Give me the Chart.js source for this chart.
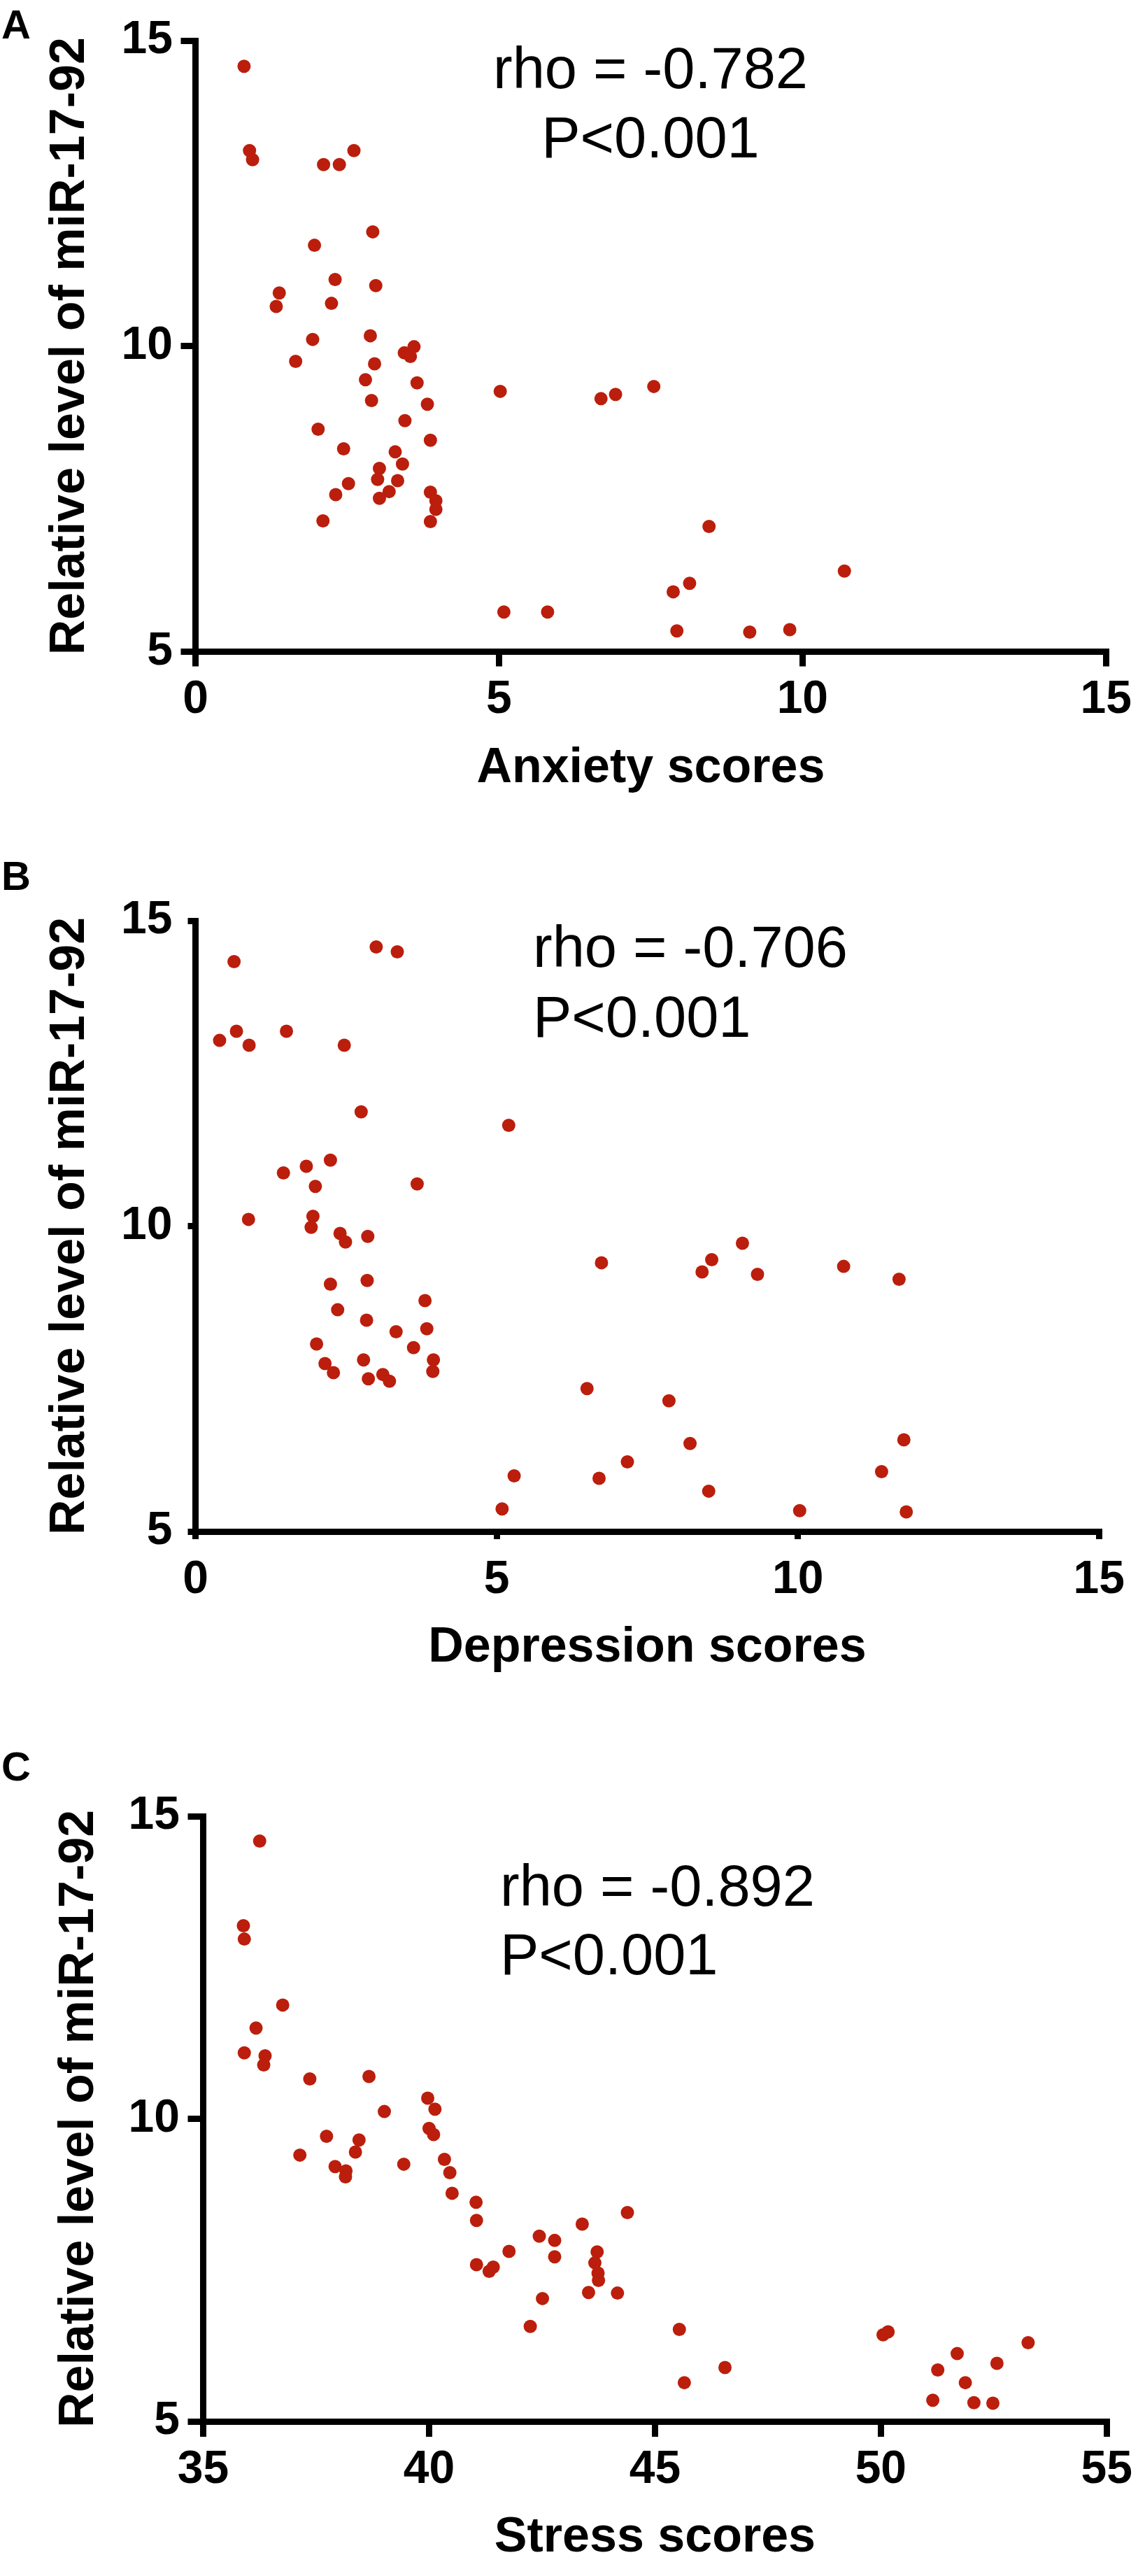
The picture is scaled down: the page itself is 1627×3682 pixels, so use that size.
<!DOCTYPE html>
<html>
<head>
<meta charset="utf-8">
<script src="https://cdn.jsdelivr.net/npm/chart.js@4.4.1/dist/chart.umd.min.js"></script>
<style>
    body { margin: 0; background: #fff; }
    canvas { display: block; }
</style>
</head>
<body>
<canvas id="chartA" width="1627" height="1200"></canvas>
<canvas id="chartB" width="1627" height="1250"></canvas>
<canvas id="chartC" width="1627" height="1232"></canvas>
<script>
const anxietyScores = [0.80, 0.89, 0.94, 2.61, 2.11, 2.37, 2.92, 1.96, 2.30, 2.97, 1.38, 1.33, 2.24, 1.93, 2.88, 3.60, 3.44, 3.54, 1.65, 2.95, 2.80, 3.65, 5.02, 2.90, 3.82, 6.68, 6.92, 7.55, 3.45, 2.02, 3.87, 2.44, 3.29, 3.41, 3.03, 3.00, 3.33, 2.52, 3.19, 2.31, 3.03, 3.87, 3.96, 3.96, 2.10, 3.87, 8.46, 10.69, 8.14, 7.87, 5.08, 5.80, 7.93, 9.13, 9.79];
const anxietyMir = [14.58, 13.20, 13.05, 13.20, 12.97, 12.97, 11.87, 11.65, 11.09, 10.99, 10.87, 10.65, 10.70, 10.11, 10.17, 9.99, 9.89, 9.83, 9.75, 9.71, 9.45, 9.40, 9.26, 9.11, 9.05, 9.14, 9.21, 9.34, 8.78, 8.64, 8.46, 8.32, 8.27, 8.07, 8.00, 7.82, 7.80, 7.75, 7.62, 7.57, 7.51, 7.61, 7.47, 7.33, 7.14, 7.13, 7.05, 6.32, 6.12, 5.98, 5.65, 5.65, 5.34, 5.32, 5.36];

const depressionScores = [0.40, 0.64, 0.68, 0.89, 1.51, 2.47, 3.00, 3.35, 2.75, 5.20, 1.46, 1.84, 2.24, 1.99, 3.68, 0.88, 1.95, 1.92, 2.40, 2.49, 2.86, 6.74, 9.08, 8.57, 8.41, 9.33, 10.76, 11.68, 2.24, 2.85, 3.81, 2.36, 2.84, 3.33, 3.84, 2.01, 3.62, 2.15, 2.79, 3.95, 2.29, 3.11, 2.87, 3.22, 3.94, 6.50, 7.86, 8.21, 11.76, 7.17, 5.29, 6.70, 11.39, 8.52, 5.09, 10.03, 11.80];
const depressionMir = [13.04, 14.33, 13.19, 12.96, 13.19, 12.96, 14.57, 14.49, 11.87, 11.65, 10.87, 10.98, 11.08, 10.65, 10.69, 10.11, 10.16, 9.98, 9.88, 9.74, 9.83, 9.40, 9.72, 9.45, 9.25, 9.21, 9.34, 9.13, 9.05, 9.11, 8.78, 8.63, 8.46, 8.27, 8.32, 8.07, 8.01, 7.75, 7.81, 7.81, 7.60, 7.57, 7.50, 7.46, 7.62, 7.34, 7.14, 6.44, 6.50, 6.14, 5.91, 5.87, 5.98, 5.66, 5.37, 5.34, 5.32];

const stressScores = [36.25, 35.89, 35.91, 36.76, 36.17, 35.91, 36.37, 36.34, 37.36, 38.67, 39.97, 40.13, 39.01, 40.00, 40.10, 37.73, 38.45, 37.14, 38.37, 40.34, 39.44, 37.92, 38.16, 38.15, 40.46, 40.51, 41.04, 44.39, 41.05, 43.39, 42.44, 42.78, 41.77, 43.72, 42.78, 43.67, 41.05, 41.42, 41.33, 43.74, 43.75, 43.53, 44.17, 42.51, 42.24, 45.54, 50.05, 50.16, 53.26, 51.69, 46.55, 51.26, 52.57, 45.65, 51.87, 51.15, 52.06, 52.48];
const stressMir = [14.59, 13.19, 12.97, 11.88, 11.50, 11.09, 11.04, 10.89, 10.66, 10.70, 10.34, 10.16, 10.12, 9.84, 9.74, 9.71, 9.65, 9.40, 9.45, 9.33, 9.25, 9.21, 9.14, 9.04, 9.11, 8.77, 8.62, 8.45, 8.32, 8.26, 8.06, 7.99, 7.81, 7.80, 7.72, 7.62, 7.59, 7.55, 7.48, 7.45, 7.33, 7.13, 7.12, 7.03, 6.57, 6.52, 6.43, 6.48, 6.30, 6.12, 5.89, 5.85, 5.96, 5.64, 5.64, 5.35, 5.31, 5.30];

const yTitle = "Relative level of miR-17-92";
const scoreRanges = { A: [0, 15], B: [0, 15], C: [35, 55] };
const mirRange = [5, 15];
const statText = {
    A: ["rho = -0.782", "P<0.001"],
    B: ["rho = -0.706", "P<0.001"],
    C: ["rho = -0.892", "P<0.001"]
};

const FONT = '"Liberation Sans", Arial, Helvetica, sans-serif';
Chart.defaults.font.family = FONT;
Chart.defaults.color = "#000";

// letter + rho / P text drawn on top
const notePlugin = {
    id: "note",
    afterDraw(chart, args, opts) {
        const ctx = chart.ctx;
        ctx.save();
        ctx.fillStyle = "#000";
        ctx.textBaseline = "middle";
        ctx.textAlign = "left";
        ctx.font = "bold 58px " + FONT;
        ctx.fillText(opts.letter, 2, opts.letterY);
        ctx.font = "83px " + FONT;
        ctx.textAlign = opts.align;
        opts.lines.forEach((t, i) => ctx.fillText(t, opts.x, opts.ys[i]));
        ctx.restore();
    }
};

function makeChart(id, xs, ys, xRange, xLabel, p) {
    const canvas = document.getElementById(id);
    const points = xs.map((x, i) => ({ x: x, y: ys[i] }));

    const axisBits = (tl) => ({
        grid: {
            drawOnChartArea: false,
            drawTicks: true,
            tickLength: tl,
            tickWidth: 9,
            lineWidth: 9,
            tickColor: "#000",
            color: "#000"
        },
        border: { display: true, color: "#000", width: 9 }
    });

    return new Chart(canvas, {
        type: "scatter",
        data: {
            datasets: [{
                data: points,
                backgroundColor: "#bb1e0c",
                borderWidth: 0,
                pointRadius: 9.5,
                pointHoverRadius: 9.5
            }]
        },
        options: {
            responsive: false,
            animation: false,
            events: [],
            layout: {
                padding: { top: p.top, right: 1627 - p.right, left: 0, bottom: 0 }
            },
            plugins: {
                legend: { display: false },
                tooltip: { enabled: false },
                note: p.note
            },
            scales: {
                x: {
                    type: "linear",
                    min: xRange[0],
                    max: xRange[1],
                    ...axisBits(p.tick),
                    ticks: {
                        stepSize: 5,
                        padding: p.xPad,
                        font: { size: 66, weight: "bold" }
                    },
                    title: {
                        display: true,
                        text: xLabel,
                        font: { size: 70, weight: "bold" },
                        padding: { top: 0, bottom: canvas.height - p.bottom - 167 - 42 }
                    },
                    afterFit: (s) => { s.height = canvas.height - p.bottom; }
                },
                y: {
                    type: "linear",
                    min: mirRange[0],
                    max: mirRange[1],
                    ...axisBits(p.tick),
                    ticks: {
                        stepSize: 5,
                        padding: p.yPad,
                        font: { size: 66, weight: "bold" }
                    },
                    title: {
                        display: true,
                        text: yTitle,
                        font: { size: 70, weight: "bold" },
                        padding: { top: p.yTitleX - 42, bottom: 0 }
                    },
                    afterFit: (s) => { s.width = p.left; }
                }
            }
        },
        plugins: [notePlugin]
    });
}

makeChart("chartA", anxietyScores, anxietyMir, scoreRanges.A, "Anxiety scores", {
    top: 58, bottom: 931.5, left: 279.5, right: 1588.5,
    tick: 21, xPad: 9, yPad: 11.5, yTitleX: 101,
    note: { letter: "A", letterY: 39, lines: statText.A, align: "center", x: 930, ys: [103, 202] }
});

makeChart("chartB", depressionScores, depressionMir, scoreRanges.B, "Depression scores", {
    top: 116, bottom: 989, left: 279.5, right: 1588.5,
    tick: 11, xPad: 19, yPad: 22, yTitleX: 101,
    note: { letter: "B", letterY: 56, lines: statText.B, align: "left", x: 762, ys: [159, 259] }
});

makeChart("chartC", stressScores, stressMir, scoreRanges.C, "Stress scores", {
    top: 146, bottom: 1011, left: 290.5, right: 1588.5,
    tick: 22, xPad: 8, yPad: 11.5, yTitleX: 114,
    note: { letter: "C", letterY: 79, lines: statText.C, align: "left", x: 715, ys: [251, 349] }
});
</script>
</body>
</html>
